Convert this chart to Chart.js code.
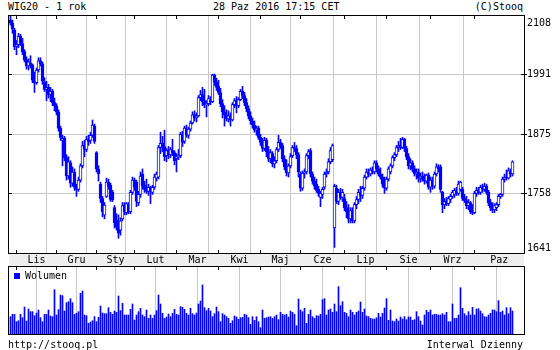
<!DOCTYPE html>
<html><head><meta charset="utf-8">
<script src="https://cdn.jsdelivr.net/npm/chart.js@4.4.1/dist/chart.umd.min.js"></script>
<style>
html,body{margin:0;padding:0;background:#fff}
body{width:560px;height:350px;overflow:hidden;position:relative;font-family:"DejaVu Sans Mono",monospace;font-size:10px;color:#000}
.t{position:absolute;white-space:pre;line-height:10px}
canvas{position:absolute;left:0}
#band{position:absolute;left:9px;top:254px;width:515px;height:12px;background:#eeeeee}
#leg{position:absolute;left:14px;top:273px;width:6px;height:6px;background:#0000ff}
</style></head><body>
<div id="band"></div>
<div class="t" style="left:8px;top:2px">WIG20 - 1 rok</div>
<div class="t" style="left:213px;top:2px">28 Paz 2016 17:15 CET</div>
<div class="t" style="right:37px;top:2px">(C)Stooq</div>
<canvas id="price" width="560" height="266" style="top:0;width:560px;height:266px"></canvas>
<canvas id="vol" width="560" height="80" style="top:260px;width:560px;height:80px"></canvas>
<div id="leg"></div>
<div class="t" style="left:25px;top:271px">Wolumen</div>
<div class="t" style="left:8px;top:340px">http://stooq.pl</div>
<div class="t" style="right:37px;top:340px">Interwal Dzienny</div>
<script>
const FONT = '"DejaVu Sans Mono", monospace';
const BLUE = '#0000ff';
const GRID = '#c8c8c8';

const opens = [
2098,2092,2078,2046,2050,2066,2052,2036,2020,2008,
2014,2010,1980,1975,2000,2018,2012,1976,1962,1966,
1952,1958,1936,1930,1918,1886,1862,1866,1828,1792,
1818,1778,1800,1770,1766,1784,1812,1852,1844,1864,
1862,1872,1890,1838,1805,1776,1748,1715,1752,1780,
1774,1760,1730,1706,1692,1686,1708,1734,1720,1736,
1722,1760,1784,1780,1740,1756,1796,1774,1768,1762,
1770,1760,1770,1788,1790,1848,1856,1850,1832,1842,
1834,1842,1838,1826,1830,1832,1872,1860,1884,1872,
1884,1896,1912,1906,1910,1946,1952,1940,1932,1934,
1940,1938,1990,1976,1968,1956,1934,1918,1912,1904,
1910,1902,1932,1940,1930,1942,1958,1950,1936,1924,
1910,1900,1892,1882,1886,1868,1858,1846,1862,1840,
1826,1836,1816,1822,1844,1858,1852,1826,1810,1798,
1812,1832,1848,1846,1834,1796,1768,1798,1800,1832,
1842,1796,1782,1776,1766,1750,1756,1770,1796,1800,
1820,1824,1690,1768,1742,1760,1750,1748,1730,1722,
1708,1724,1704,1736,1746,1760,1754,1768,1790,1800,
1796,1804,1800,1818,1806,1796,1790,1782,1768,1786,
1800,1812,1828,1834,1848,1852,1848,1864,1846,1830,
1812,1818,1806,1796,1800,1788,1792,1786,1782,1794,
1770,1784,1772,1796,1810,1810,1760,1736,1742,1738,
1746,1752,1756,1764,1758,1766,1766,1748,1744,1734,
1740,1722,1720,1758,1764,1760,1770,1766,1772,1760,
1740,1730,1726,1730,1736,1752,1756,1786,1790,1788,1800,1796];
const highs = [
2106,2098,2082,2058,2072,2070,2062,2040,2026,2022,
2028,2012,1996,2004,2024,2024,2016,1985,1978,1972,
1966,1962,1945,1934,1922,1890,1872,1870,1834,1830,
1822,1810,1806,1776,1790,1816,1860,1862,1870,1872,
1878,1902,1894,1840,1812,1780,1752,1740,1788,1786,
1778,1764,1734,1718,1716,1710,1740,1740,1740,1740,
1764,1790,1788,1784,1762,1800,1806,1782,1786,1776,
1772,1774,1796,1800,1852,1878,1870,1882,1846,1850,
1848,1864,1842,1836,1844,1878,1880,1890,1892,1888,
1900,1918,1920,1916,1950,1960,1966,1962,1940,1950,
1948,1992,1992,1984,1980,1964,1942,1930,1922,1920,
1916,1936,1944,1948,1946,1962,1968,1956,1944,1930,
1918,1906,1900,1890,1890,1874,1866,1868,1866,1850,
1844,1840,1830,1848,1872,1864,1856,1832,1824,1816,
1836,1852,1858,1852,1838,1800,1802,1806,1836,1844,
1846,1800,1790,1786,1772,1762,1770,1800,1806,1826,
1848,1855,1776,1774,1766,1768,1766,1756,1742,1736,
1730,1730,1740,1752,1766,1772,1772,1794,1806,1806,
1808,1810,1822,1822,1812,1808,1796,1790,1790,1810,
1816,1832,1838,1852,1860,1866,1868,1866,1850,1836,
1826,1822,1812,1806,1806,1798,1800,1796,1796,1798,
1790,1790,1800,1816,1814,1814,1762,1748,1750,1752,
1756,1764,1768,1770,1782,1782,1770,1756,1752,1746,
1742,1736,1762,1770,1770,1774,1776,1778,1776,1764,
1746,1740,1738,1740,1756,1758,1790,1796,1804,1808,1806,1822];
const lows = [
2088,2072,2040,2030,2044,2048,2030,2016,2002,2000,
2004,1975,1956,1972,1996,2008,1972,1958,1940,1945,
1938,1930,1920,1912,1880,1862,1812,1822,1784,1786,
1770,1772,1764,1752,1762,1780,1808,1830,1840,1852,
1856,1868,1856,1800,1782,1740,1712,1708,1750,1766,
1742,1742,1690,1686,1670,1676,1704,1716,1716,1718,
1718,1756,1764,1732,1734,1750,1766,1760,1758,1754,
1738,1756,1766,1782,1786,1836,1840,1822,1820,1826,
1828,1832,1814,1800,1824,1828,1850,1856,1868,1866,
1880,1894,1900,1898,1908,1940,1930,1926,1908,1930,
1932,1936,1970,1960,1952,1928,1906,1890,1900,1898,
1890,1900,1926,1916,1926,1940,1944,1930,1918,1904,
1894,1886,1878,1872,1864,1852,1840,1842,1830,1820,
1818,1810,1808,1818,1840,1846,1820,1804,1792,1790,
1808,1828,1840,1826,1790,1762,1764,1788,1796,1826,
1790,1776,1766,1760,1752,1732,1748,1766,1790,1796,
1816,1820,1652,1738,1736,1746,1742,1724,1710,1700,
1700,1700,1700,1728,1738,1742,1748,1764,1786,1790,
1792,1796,1796,1800,1792,1786,1770,1758,1764,1782,
1796,1808,1822,1830,1840,1844,1846,1840,1824,1806,
1804,1800,1792,1786,1780,1780,1782,1776,1778,1766,
1760,1766,1768,1792,1800,1760,1720,1728,1734,1734,
1740,1748,1750,1754,1754,1762,1744,1740,1728,1726,
1718,1716,1718,1752,1756,1756,1760,1762,1756,1734,
1724,1720,1720,1724,1732,1748,1752,1780,1784,1786,1790,1792];
const closes = [
2092,2080,2046,2050,2066,2052,2036,2020,2008,2016,
2010,1980,1975,2000,2018,2012,1978,1962,1966,1952,
1958,1936,1930,1918,1886,1868,1866,1828,1792,1820,
1778,1800,1770,1766,1784,1812,1852,1844,1864,1860,
1872,1892,1860,1806,1796,1748,1722,1735,1780,1772,
1746,1745,1700,1692,1680,1704,1734,1722,1738,1722,
1760,1784,1770,1742,1756,1792,1772,1766,1762,1770,
1762,1770,1790,1796,1848,1856,1848,1830,1842,1834,
1844,1838,1822,1830,1832,1874,1858,1886,1872,1884,
1896,1912,1906,1910,1946,1952,1938,1932,1934,1944,
1938,1990,1976,1966,1956,1934,1918,1912,1904,1910,
1902,1932,1940,1930,1942,1958,1950,1936,1924,1910,
1900,1892,1882,1886,1868,1858,1846,1862,1840,1826,
1838,1816,1822,1844,1858,1850,1826,1810,1798,1812,
1830,1848,1846,1834,1800,1768,1798,1800,1832,1840,
1796,1782,1772,1764,1758,1758,1766,1796,1800,1820,
1842,1852,1772,1742,1760,1750,1760,1730,1722,1708,
1724,1704,1736,1746,1760,1754,1768,1790,1800,1796,
1804,1800,1818,1806,1796,1790,1776,1768,1786,1806,
1812,1828,1834,1848,1852,1848,1864,1846,1830,1812,
1818,1806,1796,1800,1788,1792,1786,1782,1794,1770,
1784,1772,1796,1810,1806,1766,1736,1742,1738,1748,
1752,1760,1764,1758,1776,1780,1748,1744,1734,1740,
1722,1720,1758,1764,1760,1770,1766,1772,1760,1740,
1730,1726,1734,1736,1752,1756,1786,1790,1788,1802,1796,1820];
const volumes = [
52,59,59,37,40,59,49,81,39,75, 67,67,55,63,72,49,37,59,59,72,
54,52,133,57,73,117,115,69,94,97, 106,94,59,62,67,122,129,57,55,32,
36,40,52,37,50,84,63,61,61,79, 65,59,69,65,114,70,92,57,57,57,
74,90,42,57,67,77,57,52,72,47, 57,47,57,70,117,90,62,47,51,60,
52,62,74,59,57,82,80,74,62,57, 77,61,57,63,90,99,147,79,70,77,
69,52,61,81,67,37,61,57,52,47, 32,40,54,51,44,49,50,59,57,49,
29,52,41,52,37,19,72,47,49,51, 52,47,52,57,43,
65,59,57,59,51,69,65,59,25,105, 72,67,77,32,59,72,52,47,55,54,
59,103,106,57,72,75,65,90,67,142, 85,97,65,62,52,72,65,57,65,69,
96,65,75,54,52,47,45,45,49,62, 51,62,78,106,41,72,39,37,45,39,
51,45,52,43,51,51,41,43,67,52, 39,27,57,71,65,72,57,59,59,57,
57,61,57,65,37,37,90,47,47,57, 139,77,61,55,67,57,80,57,75,76,
69,61,52,51,57,62,72,72,67,100, 65,69,57,79,61,79,69];
const monthStarts = [3,23,43,62,83,104,125,145,167,188,210,232];
const monthLabels = ['Lis','Gru','Sty','Lut','Mar','Kwi','Maj','Cze','Lip','Sie','Wrz','Paz'];
const yTickValues = [1641,1757.75,1874.5,1991.25,2108];

const X_MIN = -1.25, X_MAX = 256.75;
const monthMids = monthStarts.map((s,k)=> (s + (k < monthStarts.length-1 ? monthStarts[k+1] : X_MAX))/2);
const xTicks = monthStarts.concat(monthMids).sort((a,b)=>a-b);
const isStart = v => monthStarts.includes(v);

const wickData = highs.map((h,i)=>({x:i, y:[lows[i], h]}));
const bodyData = opens.map((o,i)=>({x:i, y:[o, closes[i]]}));
const bodyFill = opens.map((o,i)=> closes[i] >= o ? '#ffffff' : BLUE);
const volData = volumes.map((v,i)=>({x:i, y:v}));

const alignPx = p => Math.round(p - 0.5) + 0.5;

const priceFrame = {
  id:'priceFrame',
  afterDraw(chart){
    const {ctx, chartArea:a, scales:{x,y}} = chart;
    ctx.save();
    ctx.strokeStyle = '#000'; ctx.lineWidth = 1;
    ctx.strokeRect(a.left+0.5, a.top+0.5, a.right-a.left, a.bottom-a.top);
    ctx.beginPath();
    monthStarts.forEach(m=>{
      const px = alignPx(x.getPixelForValue(m));
      ctx.moveTo(px, a.top); ctx.lineTo(px, a.top+4);
      ctx.moveTo(px, a.bottom+1); ctx.lineTo(px, a.bottom-3);
    });
    yTickValues.slice(1,-1).forEach(v=>{
      const py = alignPx(y.getPixelForValue(v));
      ctx.moveTo(a.left, py); ctx.lineTo(a.left+4, py);
      ctx.moveTo(a.right-3, py); ctx.lineTo(a.right+3, py);
    });
    ctx.stroke();
    ctx.fillStyle = '#000';
    ctx.font = '10px ' + FONT;
    ctx.textBaseline = 'middle'; ctx.textAlign = 'left';
    yTickValues.forEach(v=>{
      let py = y.getPixelForValue(v);
      py = Math.min(Math.max(py, a.top+8), a.bottom-5);
      ctx.fillText(String(Math.round(v)), a.right+3, py);
    });
    ctx.restore();
  }
};

const volFrame = {
  id:'volFrame',
  afterDraw(chart){
    const {ctx, chartArea:a, scales:{x}} = chart;
    ctx.save();
    ctx.strokeStyle = '#000'; ctx.lineWidth = 1;
    ctx.strokeRect(a.left+0.5, a.top-0.5, a.right-a.left, a.bottom-a.top+1);
    ctx.beginPath();
    monthStarts.forEach(m=>{
      const px = alignPx(x.getPixelForValue(m));
      ctx.moveTo(px, a.top); ctx.lineTo(px, a.top+3);
    });
    ctx.stroke();
    ctx.restore();
  }
};

const xBase = {
  type:'linear', min:X_MIN, max:X_MAX, offset:false, position:'bottom',
  afterBuildTicks: s => { s.ticks = xTicks.map(v=>({value:v})); },
  border:{display:false}
};

new Chart(document.getElementById('price'), {
  type:'bar',
  data:{datasets:[
    {label:'body', data:bodyData, backgroundColor:bodyFill, borderColor:BLUE, borderWidth:1,
     borderSkipped:false, barThickness:3, grouped:false, order:0},
    {label:'wick', data:wickData, backgroundColor:BLUE, borderWidth:0, barThickness:1, grouped:false, order:1}
  ]},
  options:{
    responsive:false, animation:false, devicePixelRatio:1, events:[],
    layout:{padding:{left:8, top:15, right:0, bottom:0}},
    plugins:{legend:{display:false}, tooltip:{enabled:false}},
    scales:{
      x:Object.assign({}, xBase, {
        grid:{color: c => (c.tick && isStart(c.tick.value)) ? GRID : 'rgba(0,0,0,0)', drawTicks:false, lineWidth:1},
        ticks:{autoSkip:false, maxRotation:0, minRotation:0, padding:1, color:'#000',
          font:{family:FONT, size:10},
          callback: v => { const k = monthMids.indexOf(v); return k >= 0 ? monthLabels[k] : ''; }},
        afterFit: s => { s.height = 13; }
      }),
      y:{position:'right', min:1641, max:2108,
        afterBuildTicks: s => { s.ticks = yTickValues.map(v=>({value:v})); },
        grid:{color:GRID, drawTicks:false}, border:{display:false},
        ticks:{display:false},
        afterFit: s => { s.width = 36; }}
    }
  },
  plugins:[priceFrame]
});

new Chart(document.getElementById('vol'), {
  type:'bar',
  data:{datasets:[
    {label:'Wolumen', data:volData, backgroundColor:BLUE, borderWidth:0, barThickness:1, grouped:false}
  ]},
  options:{
    responsive:false, animation:false, devicePixelRatio:1, events:[],
    layout:{padding:{left:8, top:7, right:36, bottom:6}},
    plugins:{legend:{display:false}, tooltip:{enabled:false}},
    scales:{
      x:Object.assign({}, xBase, {
        afterBuildTicks: s => { s.ticks = monthStarts.map(v=>({value:v})); },
        grid:{color:GRID, drawTicks:false, lineWidth:1},
        ticks:{display:false},
        afterFit: s => { s.height = 0; }
      }),
      y:{display:false, min:0, max:201}
    }
  },
  plugins:[volFrame]
});
</script>
</body></html>
